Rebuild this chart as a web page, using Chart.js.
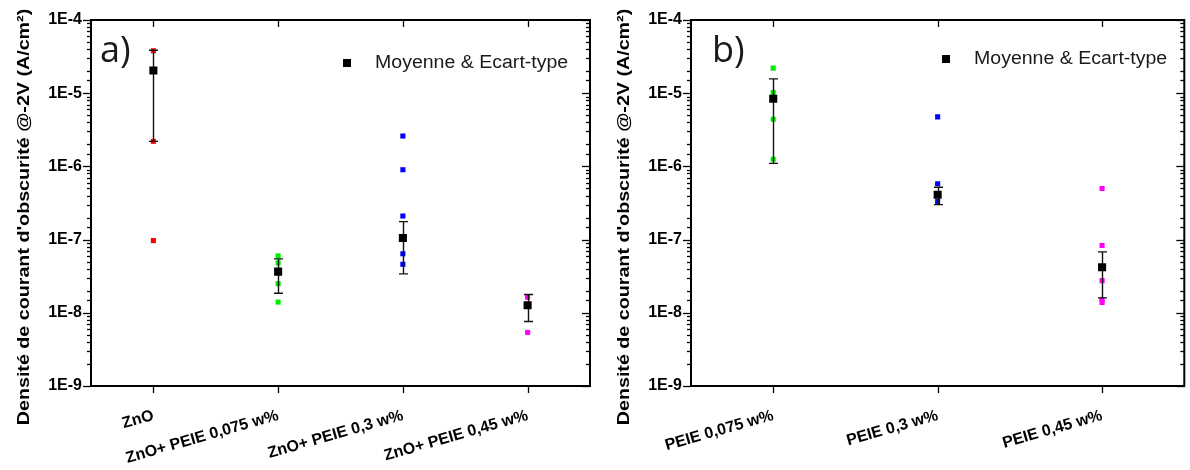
<!DOCTYPE html>
<html>
<head>
<meta charset="utf-8">
<script src="https://cdn.jsdelivr.net/npm/chart.js@4.4.0/dist/chart.umd.min.js"></script>
<style>
  html, body { margin: 0; padding: 0; background: #fff; }
  #wrap { position: relative; width: 1190px; height: 470px; overflow: hidden; }
  #cA { position: absolute; left: 0; top: 0; }
  #cB { position: absolute; left: 600px; top: 0; }
</style>
</head>
<body>
<div id="wrap">
  <canvas id="cA" width="600" height="470"></canvas>
  <canvas id="cB" width="590" height="470"></canvas>
</div>
<script>
// panel a) ZnO with / without PEIE
const catsA = ['ZnO', 'ZnO+ PEIE 0,075 w%', 'ZnO+ PEIE 0,3 w%', 'ZnO+ PEIE 0,45 w%'];
const znoA = [3.8e-5, 2.2e-6, 9.7e-8];
const peie075A = [6.0e-8, 4.8e-8, 2.5e-8, 1.4e-8];
const peie03A = [2.6e-6, 9.0e-7, 2.1e-7, 6.4e-8, 4.6e-8];
const peie045A = [1.63e-8, 5.4e-9];
const meanA = [2.04e-5, 3.65e-8, 1.05e-7, 1.27e-8];
const sdA = [1.82e-5, 1.8e-8, 7.1e-8, 5.1e-9];

// panel b) PEIE only
const catsB = ['PEIE 0,075 w%', 'PEIE 0,3 w%', 'PEIE 0,45 w%'];
const peie075B = [2.2e-5, 1.02e-5, 4.4e-6, 1.25e-6];
const peie03B = [4.75e-6, 5.8e-7, 3.3e-7];
const peie045B = [5.0e-7, 8.3e-8, 2.75e-8, 1.5e-8, 1.38e-8];
const meanB = [8.4e-6, 4.1e-7, 4.2e-8];
const sdB = [7.3e-6, 1.1e-7, 2.6e-8];

const yMin = 1e-9, yMax = 1e-4;
const yTickExp = [-9, -8, -7, -6, -5, -4];
const yTickLabels = ['1E-9', '1E-8', '1E-7', '1E-6', '1E-5', '1E-4'];
const yTitle = "Densité de courant d'obscurité @-2V (A/cm²)";
const legendLabel = 'Moyenne & Ecart-type';

const RED = '#ff0000', GREEN = '#00ee00', BLUE = '#0000ff', MAGENTA = '#ff00ff';
const FONT = '"Liberation Sans", Arial, sans-serif';

function isMajor(v) {
  const e = Math.log10(v);
  return Math.abs(e - Math.round(e)) < 1e-6;
}

function pts(cat, values) {
  return values.map(v => ({ x: cat, y: v }));
}

// frame with ticks on all four sides
const frame = {
  id: 'frame',
  afterDraw(chart) {
    const { ctx, chartArea: a, scales: { x, y } } = chart;
    ctx.save();
    ctx.strokeStyle = '#000';
    ctx.lineWidth = 1.3;
    const line = (x1, y1, x2, y2) => { ctx.beginPath(); ctx.moveTo(x1, y1); ctx.lineTo(x2, y2); ctx.stroke(); };
    y.ticks.forEach(t => {
      const py = Math.round(y.getPixelForValue(t.value)) + 0.5;
      const len = isMajor(t.value) ? 8 : 4;
      line(a.left - len, py, a.left, py);
      line(a.right, py, a.right - len, py);
    });
    x.ticks.forEach((t, i) => {
      const px = Math.round(x.getPixelForTick(i)) + 0.5;
      line(px, a.bottom, px, a.bottom + 7);
      line(px, a.top, px, a.top + 7);
    });
    ctx.lineWidth = 2;
    ctx.strokeRect(a.left, a.top, a.right - a.left, a.bottom - a.top);
    ctx.restore();
  }
};

// error bars drawn just before the mean markers
const errorBars = {
  id: 'errorBars',
  beforeDatasetDraw(chart, args) {
    if (args.index !== 0) return;
    const { ctx, scales: { x, y } } = chart;
    const ds = chart.data.datasets[0];
    ctx.save();
    ctx.strokeStyle = '#111';
    ctx.lineWidth = 1.4;
    ds.data.forEach((p, i) => {
      const px = Math.round(x.getPixelForValue(i)) + 0.5;
      const top = y.getPixelForValue(p.y + ds.errors[i]);
      const bot = y.getPixelForValue(p.y - ds.errors[i]);
      ctx.beginPath();
      ctx.moveTo(px, top); ctx.lineTo(px, bot);
      ctx.moveTo(px - 4.5, top); ctx.lineTo(px + 4.5, top);
      ctx.moveTo(px - 4.5, bot); ctx.lineTo(px + 4.5, bot);
      ctx.stroke();
    });
    ctx.restore();
  }
};

// panel letter, y title and legend
const decorations = {
  id: 'decorations',
  afterDraw(chart, args, opts) {
    const { ctx } = chart;
    ctx.save();
    ctx.fillStyle = '#1a1a1a';
    ctx.font = '36px "Open Sans", sans-serif';
    ctx.textBaseline = 'alphabetic';
    ctx.textAlign = 'left';
    ctx.fillText(opts.letter, opts.letterX, 62);

    ctx.fillStyle = '#000';
    ctx.fillRect(opts.legX - 4, opts.legY - 4, 8, 8);
    ctx.save();
    ctx.fillStyle = '#1a1a1a';
    ctx.font = '18px ' + FONT;
    ctx.textBaseline = 'middle';
    ctx.translate(opts.legX + 28, opts.legY);
    ctx.scale(1.085, 1);
    ctx.fillText(chart.data.datasets[0].label, 0, 0);
    ctx.restore();

    ctx.translate(28.5, 217);
    ctx.rotate(-Math.PI / 2);
    ctx.scale(1.23, 1);
    ctx.fillStyle = '#000';
    ctx.font = 'bold 16px ' + FONT;
    ctx.textAlign = 'center';
    ctx.textBaseline = 'alphabetic';
    ctx.fillText(yTitle, 0, 0);
    ctx.restore();
  }
};

function makeChart(id, cats, groups, colors, mean, sd, rightPad, deco) {
  const datasets = [{
    label: legendLabel,
    data: mean.map((v, i) => ({ x: cats[i], y: v })),
    errors: sd,
    backgroundColor: '#000',
    borderWidth: 0,
    pointStyle: 'rect',
    pointRadius: 5.7
  }];
  groups.forEach((g, i) => {
    datasets.push({
      label: cats[i],
      data: pts(cats[i], g),
      backgroundColor: colors[i],
      borderWidth: 0,
      pointStyle: 'rect',
      pointRadius: 3.6
    });
  });
  return new Chart(document.getElementById(id), {
    type: 'scatter',
    data: { labels: cats, datasets: datasets },
    options: {
      responsive: false,
      animation: false,
      layout: { padding: { top: 20, right: rightPad, left: 0, bottom: 0 } },
      scales: {
        x: {
          type: 'category',
          labels: cats,
          offset: true,
          grid: { display: false, drawTicks: false },
          border: { display: false },
          afterFit: s => { s.height = 84; },
          ticks: {
            autoSkip: false,
            minRotation: 16,
            maxRotation: 16,
            padding: 20,
            color: '#000',
            font: { family: FONT, size: 16, weight: 'bold' }
          }
        },
        y: {
          type: 'logarithmic',
          min: yMin,
          max: yMax,
          grid: { display: false, drawTicks: false },
          border: { display: false },
          afterFit: s => { s.width = 91; },
          ticks: {
            autoSkip: false,
            padding: 9,
            color: '#000',
            font: { family: FONT, size: 16, weight: 'bold' },
            callback: v => {
              if (!isMajor(v)) return '';
              const k = yTickExp.indexOf(Math.round(Math.log10(v)));
              return k >= 0 ? yTickLabels[k] : '';
            }
          }
        }
      },
      plugins: {
        legend: { display: false },
        tooltip: { enabled: false },
        decorations: deco
      }
    },
    plugins: [errorBars, frame, decorations]
  });
}

makeChart('cA', catsA, [znoA, peie075A, peie03A, peie045A], [RED, GREEN, BLUE, MAGENTA],
  meanA, sdA, 10, { letter: 'a)', letterX: 100, legX: 347, legY: 63 });
makeChart('cB', catsB, [peie075B, peie03B, peie045B], [GREEN, BLUE, MAGENTA],
  meanB, sdB, 1, { letter: 'b)', letterX: 112, legX: 346, legY: 59 });
</script>
</body>
</html>
